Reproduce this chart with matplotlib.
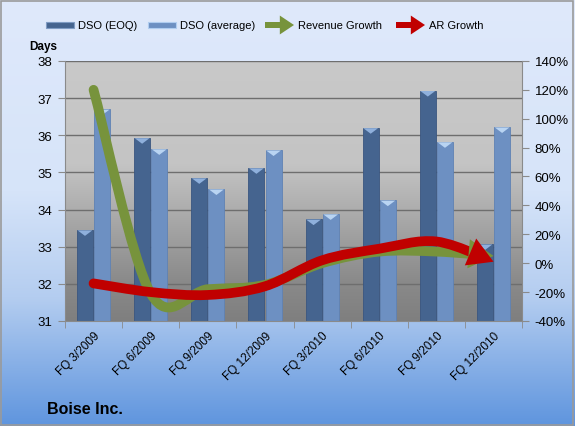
import numpy as np
import matplotlib
matplotlib.use('Agg')
import matplotlib.pyplot as plt
from matplotlib.path import Path
from matplotlib.patches import PathPatch, Rectangle, Polygon
from matplotlib.colors import LinearSegmentedColormap
from matplotlib.ticker import FuncFormatter, FixedLocator

plt.rcParams['font.family'] = ['Liberation Sans', 'DejaVu Sans']

quarters = ['FQ 3/2009', 'FQ 6/2009', 'FQ 9/2009', 'FQ 12/2009',
            'FQ 3/2010', 'FQ 6/2010', 'FQ 9/2010', 'FQ 12/2010']
dso_eoq = [33.45, 35.93, 34.85, 35.12, 33.74, 36.2, 37.2, 33.07]
dso_avg = [36.7, 35.63, 34.55, 35.6, 33.88, 34.25, 35.82, 36.22]
revenue_growth = [120, -21, -18, -15, 0, 8, 8, 5]
ar_growth = [-14, -20, -22, -16, 2, 10, 15, 1]

EOQ_COLOR = '#45648f'
AVG_COLOR = '#6d90c2'
GREEN = '#77933c'
RED = '#c00000'

fig = plt.figure(figsize=(5.75, 4.27), dpi=100)

# figure background gradient
bg = fig.add_axes([0, 0, 1, 1], zorder=-10)
bg_cmap = LinearSegmentedColormap.from_list(
    'bg', [(0.0, '#dfe9fb'), (0.45, '#d6e4f9'), (0.7, '#b4cdf0'), (1.0, '#5f95de')])
bg.imshow(np.linspace(0, 1, 256).reshape(-1, 1), aspect='auto', cmap=bg_cmap,
          extent=[0, 1, 0, 1], origin='upper')
bg.set_xlim(0, 1)
bg.set_ylim(0, 1)
bg.axis('off')
bg.add_patch(Rectangle((0.002, 0.003), 0.995, 0.993, fill=False,
                       ec='#9a9a9a', lw=1.2))

ax = fig.add_axes([0.113, 0.246, 0.795, 0.609])
x = np.arange(len(quarters))

# plot area gradient
pa_cmap = LinearSegmentedColormap.from_list(
    'pa', [(0.0, '#c9c9c9'), (0.4, '#c4c4c4'), (0.55, '#b0b0b0'),
           (0.85, '#8a8a8a'), (1.0, '#7f7f7f')])
ax.imshow(np.linspace(0, 1, 256).reshape(-1, 1), aspect='auto', cmap=pa_cmap,
          extent=[-0.5, 7.5, 31, 38], origin='upper', zorder=0)

w = 0.28
ax.bar(x - 0.15, [v - 31 for v in dso_eoq], w, bottom=31, color=EOQ_COLOR,
       edgecolor='#3a5680', lw=0.6, zorder=2)
ax.bar(x + 0.15, [v - 31 for v in dso_avg], w, bottom=31, color=AVG_COLOR,
       edgecolor='#5f82b4', lw=0.6, zorder=2)
# bar top highlights (little bevel triangles)
for xs, vals, col in [(x - 0.15, dso_eoq, '#8fb0dc'), (x + 0.15, dso_avg, '#b9d4f2')]:
    for xc, v in zip(xs, vals):
        ax.add_patch(Polygon([(xc - w / 2 + 0.01, v - 0.01), (xc + w / 2 - 0.01, v - 0.01),
                              (xc, v - 0.16)], closed=True, fc=col, lw=0, zorder=3))

ax.set_xlim(-0.5, 7.5)
ax.set_ylim(31, 38)
ax.set_yticks(range(31, 39))
for yv in range(32, 39):
    ax.axhline(yv, color='#6e6e6e', lw=1, zorder=1)
ax.set_xticks(x)
ax.set_xticklabels(quarters, rotation=45, ha='right', rotation_mode='anchor',
                   fontsize=8.5)
ax.xaxis.set_minor_locator(FixedLocator(np.arange(-0.5, 8, 1)))
ax.tick_params(axis='x', which='major', length=0, pad=6)
ax.tick_params(axis='x', which='minor', length=5, color='#8a8a8a')
ax.tick_params(axis='y', length=5, color='#8a8a8a', labelsize=9.5, pad=4)
for s in ['top', 'right']:
    ax.spines[s].set_visible(False)
ax.spines['left'].set_color('#8a8a8a')
ax.spines['bottom'].set_color('#8a8a8a')

ax2 = ax.twinx()
ax2.set_ylim(-40, 140)
ax2.set_yticks(range(-40, 141, 20))
ax2.yaxis.set_major_formatter(FuncFormatter(lambda v, p: f'{int(v)}%'))
ax2.tick_params(axis='y', length=5, color='#8a8a8a', labelsize=9.5, pad=4)
for s in ['top', 'left', 'bottom']:
    ax2.spines[s].set_visible(False)
ax2.spines['right'].set_color('#8a8a8a')


def smooth_arrow(axis, xs, ys, color, lw):
    pts = np.column_stack([xs, ys]).astype(float)
    ext = np.vstack([pts[0], pts, pts[-1]])
    verts = [pts[0]]
    codes = [Path.MOVETO]
    n = len(pts)
    for i in range(n - 1):
        p0, p1, p2, p3 = ext[i], ext[i + 1], ext[i + 2], ext[i + 3]
        c1 = p1 + (p2 - p0) / 6
        c2 = p2 - (p3 - p1) / 6
        if i == n - 2:
            # split the last segment so the arrow head covers its end
            t = 0.6
            a = p1 + (c1 - p1) * t
            b = c1 + (c2 - c1) * t
            c = c2 + (p2 - c2) * t
            d = a + (b - a) * t
            e = b + (c - b) * t
            f = d + (e - d) * t
            verts += [a, d, f]
            codes += [Path.CURVE4] * 3
            start = f
        else:
            verts += [c1, c2, p2]
            codes += [Path.CURVE4] * 3
    patch = PathPatch(Path(verts, codes), fill=False, ec=color, lw=lw,
                      capstyle='round', joinstyle='round', zorder=5)
    axis.add_patch(patch)
    axis.annotate('', xy=tuple(pts[-1]), xytext=tuple(start),
                  arrowprops=dict(arrowstyle='-|>,head_length=0.6,head_width=0.35',
                                  mutation_scale=30, fc=color, ec=color, lw=0,
                                  shrinkA=0, shrinkB=0), zorder=6)


smooth_arrow(ax2, x, revenue_growth, GREEN, 7)
smooth_arrow(ax2, x, ar_growth, RED, 7)

# legend (drawn by hand to match the layout)
ly = 1 - 26 / 427
fs = 8
fig.patches.append(Rectangle((46 / 575, ly - 0.006), 28 / 575, 0.013,
                             transform=fig.transFigure, fc=EOQ_COLOR,
                             ec='#7f9cc4', lw=0.8))
fig.text(78 / 575, ly, 'DSO (EOQ)', fontsize=fs, va='center')
fig.patches.append(Rectangle((148 / 575, ly - 0.006), 28 / 575, 0.013,
                             transform=fig.transFigure, fc=AVG_COLOR,
                             ec='#b0cdf0', lw=0.8))
fig.text(180 / 575, ly, 'DSO (average)', fontsize=fs, va='center')
for x0, col, label in [(265, GREEN, 'Revenue Growth'), (396, RED, 'AR Growth')]:
    fig.patches.append(Rectangle((x0 / 575, ly - 0.007), 18 / 575, 0.014,
                                 transform=fig.transFigure, fc=col, lw=0))
    bg.annotate('', xy=((x0 + 29) / 575, ly), xytext=((x0 + 15) / 575, ly),
                xycoords='figure fraction', textcoords='figure fraction',
                arrowprops=dict(arrowstyle='-|>,head_length=0.6,head_width=0.4',
                                mutation_scale=17, fc=col, ec=col, lw=0,
                                shrinkA=0, shrinkB=0))
    fig.text((x0 + 33) / 575, ly, label, fontsize=fs, va='center')

fig.text(29 / 575, 1 - 47 / 427, 'Days', fontsize=8.5, fontweight='bold',
         va='center')
fig.text(47 / 575, 1 - 410 / 427, 'Boise Inc.', fontsize=11.5,
         fontweight='bold', va='center')

fig.savefig('out.png', dpi=100)
